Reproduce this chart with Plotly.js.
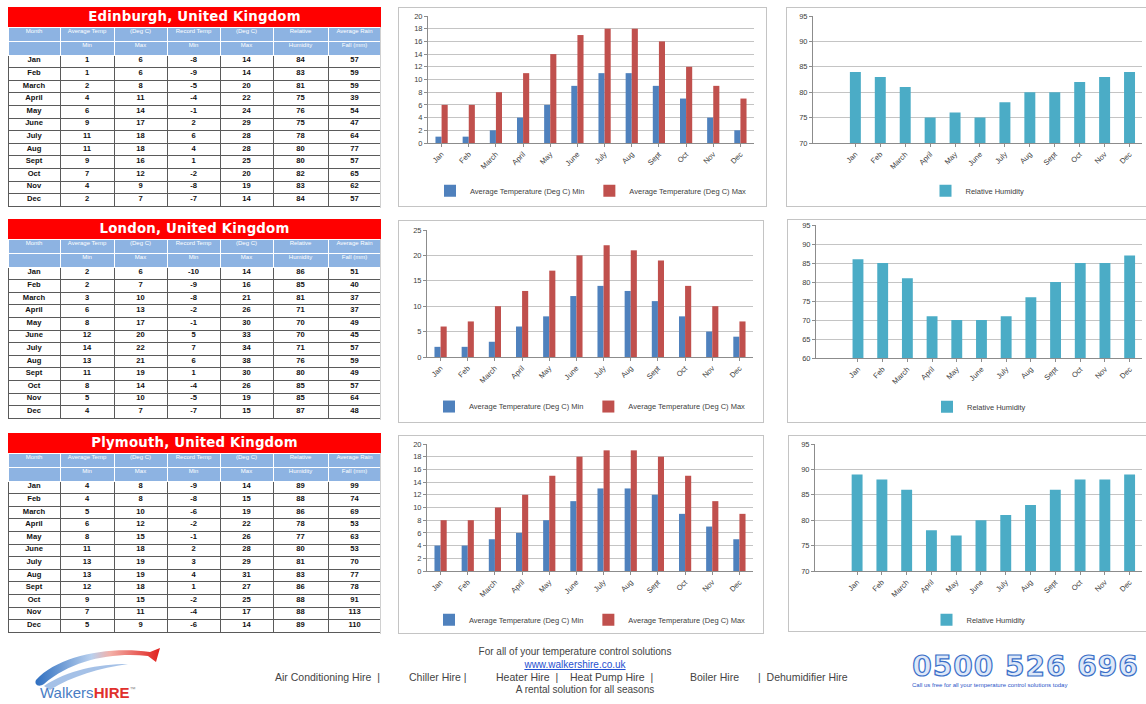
<!DOCTYPE html>
<html><head><meta charset="utf-8">
<script src="https://cdn.plot.ly/plotly-3.0.1.min.js"></script>
<style>
body{margin:0;width:1146px;height:704px;overflow:hidden;background:#fff;font-family:"Liberation Sans",Arial,sans-serif;position:relative}
.box{position:absolute;border:1px solid #c4c4c4;box-sizing:border-box;background:#fff;overflow:hidden}
.ttl{position:absolute;left:8px;width:373px;height:20px;background:#ff0000;color:#fff;font:bold 13.3px "DejaVu Sans",sans-serif;text-align:center;line-height:20px;letter-spacing:0.2px}
.tbl{position:absolute;left:8px;width:373px;height:181px;overflow:hidden;border-right:1px solid #d0d0d0;box-sizing:border-box}
.tin{position:absolute;left:0;top:0;width:1865px;height:905px;transform:scale(0.2);transform-origin:0 0}
.ft{position:absolute;font-size:10px;color:#444;white-space:nowrap}
.f3{font-size:10.5px}
.c{text-align:center}
</style>
</head><body>

<div class="ttl" style="top:7px">Edinburgh, United Kingdom</div>
<div class="tbl" style="top:27px"><div class="tin" id="t1"></div></div>
<div class="ttl" style="top:219px">London, United Kingdom</div>
<div class="tbl" style="top:239px"><div class="tin" id="t2"></div></div>
<div class="ttl" style="top:433px">Plymouth, United Kingdom</div>
<div class="tbl" style="top:453px"><div class="tin" id="t3"></div></div>

<div class="box" id="c1" style="left:398px;top:7px;width:369px;height:200px"></div>
<div class="box" id="c2" style="left:398px;top:220px;width:366px;height:203px"></div>
<div class="box" id="c3" style="left:398px;top:435px;width:366px;height:199px"></div>
<div class="box" id="h1" style="left:786px;top:7px;width:372px;height:200px"></div>
<div class="box" id="h2" style="left:787px;top:219px;width:371px;height:204px"></div>
<div class="box" id="h3" style="left:788px;top:435px;width:370px;height:197px"></div>

<!-- footer -->
<svg style="position:absolute;left:28px;top:642px" width="140" height="62" viewBox="0 0 140 62">
  <defs>
    <linearGradient id="sw" x1="0" y1="0" x2="1" y2="0">
      <stop offset="0" stop-color="#2f6fc0"/>
      <stop offset="0.45" stop-color="#b9d0ee"/>
      <stop offset="0.6" stop-color="#f3b0a8"/>
      <stop offset="1" stop-color="#e0201c"/>
    </linearGradient>
  </defs>
  <path d="M8 38 C30 14 80 4 122 10 L132 6 L128 20 L120 14 C84 10 44 18 16 42 C10 46 6 42 8 38 Z" fill="url(#sw)"/>
  <path d="M16 44 C40 28 70 22 100 22 C72 26 44 34 22 48 Z" fill="#7fa7dd" opacity="0.7"/>
  <text x="12" y="56" font-family="Liberation Sans, Arial" font-size="15" fill="#4a7dc4">Walkers<tspan fill="#e0302c" font-weight="bold">HIRE</tspan><tspan font-size="6" dy="-7" fill="#888">™</tspan></text>
</svg>
<div class="ft c" style="left:455px;top:646px;width:240px">For all of your temperature control solutions</div>
<div class="ft c" style="left:455px;top:659px;width:240px;color:#1f4fd0;text-decoration:underline">www.walkershire.co.uk</div>
<div class="ft f3" style="left:275px;top:671px">Air Conditioning Hire&nbsp;&nbsp;|</div>
<div class="ft f3" style="left:409px;top:671px">Chiller Hire&nbsp;|</div>
<div class="ft f3" style="left:496px;top:671px">Heater Hire&nbsp;&nbsp;|</div>
<div class="ft f3" style="left:570px;top:671px">Heat Pump Hire&nbsp;&nbsp;|</div>
<div class="ft f3" style="left:690px;top:671px">Boiler Hire</div>
<div class="ft f3" style="left:758px;top:671px">|&nbsp;&nbsp;Dehumidifier Hire</div>
<div class="ft c" style="left:465px;top:684px;width:240px">A rental solution for all seasons</div>
<div style="position:absolute;left:908px;top:650px;width:235px;text-align:center;font:bold 28px 'DejaVu Sans',sans-serif;color:#dde8f8;-webkit-text-stroke:1.2px #3a6fc8;letter-spacing:1px;white-space:nowrap">0500 526 696</div>
<div style="position:absolute;left:912px;top:682px;width:234px;font:6px 'Liberation Sans',Arial;color:#2a55c8;text-decoration:underline;white-space:nowrap;overflow:hidden">Call us free for all your temperature control solutions today</div>

<script>
// ---------- data ----------
const months = ["Jan","Feb","March","April","May","June","July","Aug","Sept","Oct","Nov","Dec"];

const edinMin   = [1,1,2,4,6,9,11,11,9,7,4,2];
const edinMax   = [6,6,8,11,14,17,18,18,16,12,9,7];
const edinRecMin= [-8,-9,-5,-4,-1,2,6,4,1,-2,-8,-7];
const edinRecMax= [14,14,20,22,24,29,28,28,25,20,19,14];
const edinHum   = [84,83,81,75,76,75,78,80,80,82,83,84];
const edinRain  = [57,59,59,39,54,47,64,77,57,65,62,57];

const lonMin    = [2,2,3,6,8,12,14,13,11,8,5,4];
const lonMax    = [6,7,10,13,17,20,22,21,19,14,10,7];
const lonRecMin = [-10,-9,-8,-2,-1,5,7,6,1,-4,-5,-7];
const lonRecMax = [14,16,21,26,30,33,34,38,30,26,19,15];
const lonHum    = [86,85,81,71,70,70,71,76,80,85,85,87];
const lonRain   = [51,40,37,37,49,45,57,59,49,57,64,48];

const plyMin    = [4,4,5,6,8,11,13,13,12,9,7,5];
const plyMax    = [8,8,10,12,15,18,19,19,18,15,11,9];
const plyRecMin = [-9,-8,-6,-2,-1,2,3,4,1,-2,-4,-6];
const plyRecMax = [14,15,19,22,26,28,29,31,27,25,17,14];
const plyHum    = [89,88,86,78,77,80,81,83,86,88,88,89];
const plyRain   = [99,74,69,53,63,53,70,77,78,91,113,110];

const headerRow1 = ["Month","Average Temp","(Deg C)","Record Temp","(Deg C)","Relative","Average Rain"];
const headerRow2 = ["","Min","Max","Min","Max","Humidity","Fall (mm)"];
const minLabel = "Average Temperature (Deg C) Min";
const maxLabel = "Average Temperature (Deg C) Max";
const humLabel = "Relative Humidity";

// ---------- tables (drawn at 5x, shown at 0.2 scale) ----------
const cfg = {staticPlot:true, displayModeBar:false};
function makeTable(id, cols){
  const header = headerRow1.map((h,i)=>[h, headerRow2[i]]);
  Plotly.newPlot(id, [{
    type:"table",
    columnwidth:[52,54,53,53,53,55,53],
    header:{values:header, height:70, align:"center",
      fill:{color:"#8db3e2"}, line:{color:"#ffffff", width:5},
      font:{family:"Liberation Sans, Arial", size:30, color:"#ffffff"}},
    cells:{values:cols, height:63, align:"center",
      fill:{color:"#ffffff"}, line:{color:"#5a5a5a", width:5},
      font:{family:"Liberation Sans, Arial", size:38, color:"#111", weight:"bold"}}
  }], {width:1865, height:905, margin:{l:0,r:0,t:0,b:0}, paper_bgcolor:"#fff"}, cfg);
}
makeTable("t1",[months,edinMin,edinMax,edinRecMin,edinRecMax,edinHum,edinRain]);
makeTable("t2",[months,lonMin,lonMax,lonRecMin,lonRecMax,lonHum,lonRain]);
makeTable("t3",[months,plyMin,plyMax,plyRecMin,plyRecMax,plyHum,plyRain]);

// ---------- charts ----------
const tickFont = {family:"Liberation Sans, Arial", size:7.5, color:"#404040"};
const legFont = {family:"Liberation Sans, Arial", size:7.5, color:"#404040"};
const EXTRA = 40; // extra (clipped) room below so the legend can sit low in the box
function axes(yrange, dtick, xrange){
  return {
    xaxis:{type:"category", tickangle:-45, tickfont:tickFont, showline:true, linecolor:"#8c8c8c",
      ticks:"outside", ticklen:3, tickcolor:"#8c8c8c", showgrid:false, fixedrange:true,
      range:xrange, automargin:false},
    yaxis:{range:yrange, dtick:dtick, tickfont:tickFont, showline:true, linecolor:"#8c8c8c",
      ticks:"outside", ticklen:3, tickcolor:"#8c8c8c", gridcolor:"#c4c4c4", gridwidth:1,
      zeroline:false, automargin:false}
  };
}
function tempChart(id, w, h, m, mn, mx, yr, dt, ly){
  m.b += EXTRA;
  const lay = Object.assign({width:w-2, height:h-2+EXTRA, margin:m, barmode:"group", bargap:0.55, bargroupgap:0,
    plot_bgcolor:"#fff", paper_bgcolor:"#fff", showlegend:true,
    legend:{orientation:"h", x:0.5, xanchor:"center", y:ly, yanchor:"middle",
      font:legFont, itemwidth:30, tracegroupgap:0}
  }, axes(yr, dt, [-0.5, 11.5]));
  Plotly.newPlot(id, [
    {type:"bar", x:months, y:mn, name:minLabel, marker:{color:"#4f81bd"}},
    {type:"bar", x:months, y:mx, name:maxLabel, marker:{color:"#c0504d"}}
  ], lay, cfg);
}
function humChart(id, w, h, m, hum, yr, ly){
  m.b += EXTRA;
  const lay = Object.assign({width:w-2, height:h-2+EXTRA, margin:m, bargap:0.56,
    plot_bgcolor:"#fff", paper_bgcolor:"#fff", showlegend:true,
    legend:{orientation:"h", x:0.5, xanchor:"center", y:ly, yanchor:"middle",
      font:legFont, itemwidth:30}
  }, axes(yr, 5, [-1.7, 11.5]));
  Plotly.newPlot(id, [
    {type:"bar", x:months, y:hum, name:humLabel, marker:{color:"#4bacc6"}, showlegend:true}
  ], lay, cfg);
}

tempChart("c1", 369, 200, {l:29,r:12,t:8,b:63}, edinMin, edinMax, [0,20], 2, -0.375);
tempChart("c2", 366, 203, {l:28,r:10,t:9,b:65}, lonMin, lonMax, [0,25], 5, -0.39);
tempChart("c3", 366, 199, {l:28,r:10,t:8,b:62}, plyMin, plyMax, [0,20], 2, -0.383);

humChart("h1", 372, 200, {l:26,r:15,t:8,b:63}, edinHum, [70,95], -0.375);
humChart("h2", 371, 204, {l:28,r:15,t:5,b:64}, lonHum, [60,95], -0.366);
humChart("h3", 370, 197, {l:26,r:15,t:8,b:60}, plyHum, [70,95], -0.383);
</script>
</body></html>
